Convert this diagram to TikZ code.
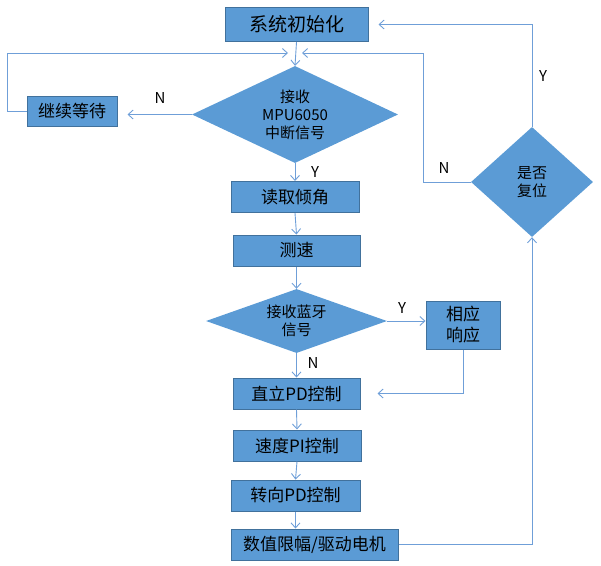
\documentclass[tikz,border=0pt]{standalone}
\usepackage{fontspec}
\setmainfont{Noto Sans CJK SC}
\usetikzlibrary{shapes.geometric,arrows.meta}
\definecolor{boxfill}{HTML}{5B9BD5}
\definecolor{boxline}{HTML}{41719C}
\definecolor{linecol}{HTML}{6F9FD8}
\tikzset{
  box/.style={draw=boxline, fill=boxfill, line width=1pt, inner sep=0pt, align=center,
    font=\fontsize{17}{21}\selectfont},
  dec/.style={diamond, fill=boxfill, inner sep=0pt, align=center,
    font=\fontsize{15}{18}\selectfont},
  line/.style={draw=linecol, line width=0.9pt},
  arr/.style={line, -{Straight Barb[length=5pt,width=9pt]}},
  yn/.style={font=\fontsize{15}{18}\selectfont}
}
\begin{document}
\begin{tikzpicture}[x=1pt,y=-1pt]
\useasboundingbox (0,0) rectangle (601,565);
% boxes
\node [box, minimum width=143, minimum height=34, font=\fontsize{19}{22}\selectfont] (init) at (296.5,24.5) {系统初始化};
\node [dec, minimum width=206, minimum height=97, aspect=2.1] (recv) at (295,114.5) {接收\\MPU6050\\中断信号};
\node [box, minimum width=90, minimum height=30] (wait) at (72,111) {继续等待};
\node [box, minimum width=128, minimum height=31] (angle) at (295,197) {读取倾角};
\node [box, minimum width=127, minimum height=31] (speed) at (296.5,250.5) {测速};
\node [dec, minimum width=181, minimum height=64, aspect=2.8] (bt) at (296.5,321) {接收蓝牙\\信号};
\node [box, minimum width=74, minimum height=48] (resp) at (463,325) {相应\\响应};
\node [box, minimum width=127, minimum height=31] (upright) at (296.5,393.5) {直立PD控制};
\node [box, minimum width=128, minimum height=31] (velo) at (297,445.5) {速度PI控制};
\node [box, minimum width=129, minimum height=31] (turn) at (295.5,495.5) {转向PD控制};
\node [box, minimum width=167, minimum height=31] (motor) at (314.5,544.5) {数值限幅/驱动电机};
\node [dec, minimum width=122, minimum height=110, aspect=1.1] (reset) at (532,182) {是否\\复位};
% merge points
\coordinate (mL) at (288,53);
\coordinate (mR) at (302,53);
% connectors
\draw [arr] (init.south) -- (recv.north);
\draw [arr] (wait.west) -- ++(-19,0) |- (mL);
\draw [arr, shorten >=10pt] (recv.west) -- (recv.west -| wait.east);
\draw [arr] (recv.south) -- (angle.north);
\draw [arr] (angle.south) -- (speed.north);
\draw [arr] (speed.south) -- (bt.north);
\draw [arr] (bt.east) -- (bt.east -| resp.west);
\draw [arr] (bt.south) -- (upright.north);
\draw [arr, shorten >=17pt] (resp.south) |- (upright.east);
\draw [arr] (upright.south) -- (velo.north);
\draw [arr] (velo.south) -- (turn.north);
\draw [arr] (turn.south) -- (turn.south |- motor.north);
\draw [arr] (motor.east) -| (reset.south);
\draw [arr, shorten >=10pt] (reset.north) |- (init.east);
\draw [arr] (reset.west) -- ++(-47,0) |- (mR);
% labels
\node [yn] (n1) at (160,98) {N};
\node [yn] (y1) at (315,172) {Y};
\node [yn] (y2) at (402,308) {Y};
\node [yn] (n2) at (313,363) {N};
\node [yn] (y3) at (543,76) {Y};
\node [yn] (n3) at (444,168) {N};
\end{tikzpicture}
\end{document}
